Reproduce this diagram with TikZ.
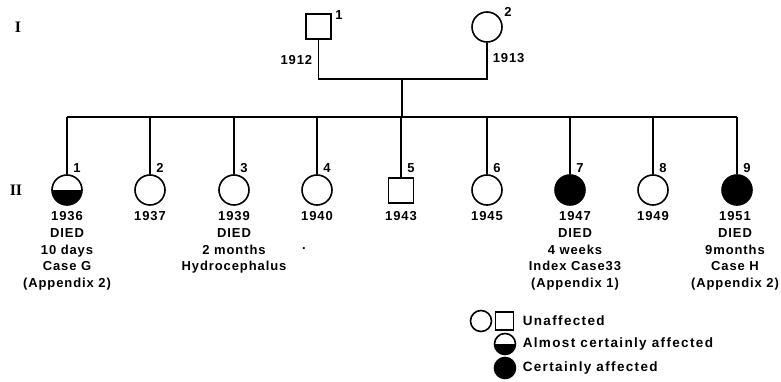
\documentclass[tikz,border=0pt]{standalone}
\usepackage{fontspec}
\setmainfont{Liberation Sans}[LetterSpace=7]
\newfontfamily\genfont{Liberation Serif}
\begin{document}
\begin{tikzpicture}[x=1pt,y=-1pt, line width=1.6pt,
 font=\bfseries\fontsize{13}{16.7}\selectfont,
 female/.style={circle,draw,minimum size=30pt,inner sep=0pt},
 male/.style={rectangle,draw,minimum size=25pt,inner sep=0pt},
 halff/.style={path picture={\fill (path picture bounding box.west) rectangle (path picture bounding box.south east);}},
 full/.style={fill=black},
 lbl/.style={inner sep=0pt, align=center, anchor=north},
 num/.style={inner sep=0pt},
 gen/.style={inner sep=0pt,font=\genfont\bfseries\fontsize{16}{18}\selectfont},
 leg/.style={inner sep=0pt,anchor=west,font=\bfseries\fontsize{13.5}{16}\selectfont\addfontfeature{LetterSpace=10}}]
\useasboundingbox (0,0) rectangle (781,382);
% generation labels
\node[gen] (gI) at (18,27) {I};
\node[gen] (gII) at (16,190) {II};
% generation I
\node[male] (p1) at (318.5,26.5) {};
\node[female] (p2) at (487,27) {};
\node[num] (n01) at (339,15) {1};
\node[num] (n02) at (508,12) {2};
\node[inner sep=0pt,anchor=east] (y01) at (313,60) {1912};
\node[inner sep=0pt,anchor=west] (y02) at (492,58) {1913};
\coordinate (m1) at (318.5,79);
\coordinate (m2) at (487,79);
\coordinate (d) at (402,79);
\coordinate (sL) at (67,117);
\coordinate (sR) at (737,117);
\coordinate (sd) at (402,117);
\draw (p1) -- (m1) -- (m2) -- (p2);
\draw (d) -- (sd);
\draw (sL) -- (sR);
% generation II
\node[female,halff] (c1) at (67,190) {};
\node[female] (c2) at (150,190) {};
\node[female] (c3) at (234,190) {};
\node[female] (c4) at (317,190) {};
\node[male] (c5) at (401,190.5) {};
\node[female] (c6) at (487,190) {};
\node[female,full] (c7) at (570,190) {};
\node[female] (c8) at (653,190) {};
\node[female,full] (c9) at (737,190) {};
\foreach \i in {1,...,9}{
  \draw (c\i.north) -- (c\i.north |- sL);
  \node[num] (k\i) at ([xshift=10pt]c\i.north |- 0,168) {\i};
}
\node[lbl] (t1) at (67,211) {1936\\DIED\\10 days\\Case G\\(Appendix 2)};
\node[lbl] (t2) at (150,211) {1937};
\node[lbl] (t3) at (234,211) {1939\\DIED\\2 months\\Hydrocephalus};
\node[lbl] (t4) at (317,211) {1940};
\node[inner sep=0pt] (dot) at (304,249) {.};
\node[lbl] (t5) at (401,211) {1943};
\node[lbl] (t6) at (487,211) {1945};
\node[lbl] (t7) at (575,211) {1947\\DIED\\4 weeks\\Index Case33\\(Appendix 1)};
\node[lbl] (t8) at (653,211) {1949};
\node[lbl] (t9) at (735,211) {1951\\DIED\\9months\\Case H\\(Appendix 2)};
% legend
\node[circle,draw,minimum size=21pt,inner sep=0pt] (lc) at (481,321) {};
\node[rectangle,draw,minimum size=18pt,inner sep=0pt] (ls) at (504.5,321) {};
\node[circle,draw,minimum size=21pt,inner sep=0pt,halff] (lh) at (505,344) {};
\node[circle,draw,fill=black,minimum size=21pt,inner sep=0pt] (lf) at (505,368) {};
\node[leg] (lt1) at (522,321) {Unaffected};
\node[leg] (lt2) at (522,344) {Almost certainly affected};
\node[leg] (lt3) at (522,368) {Certainly affected};
\end{tikzpicture}
\end{document}
